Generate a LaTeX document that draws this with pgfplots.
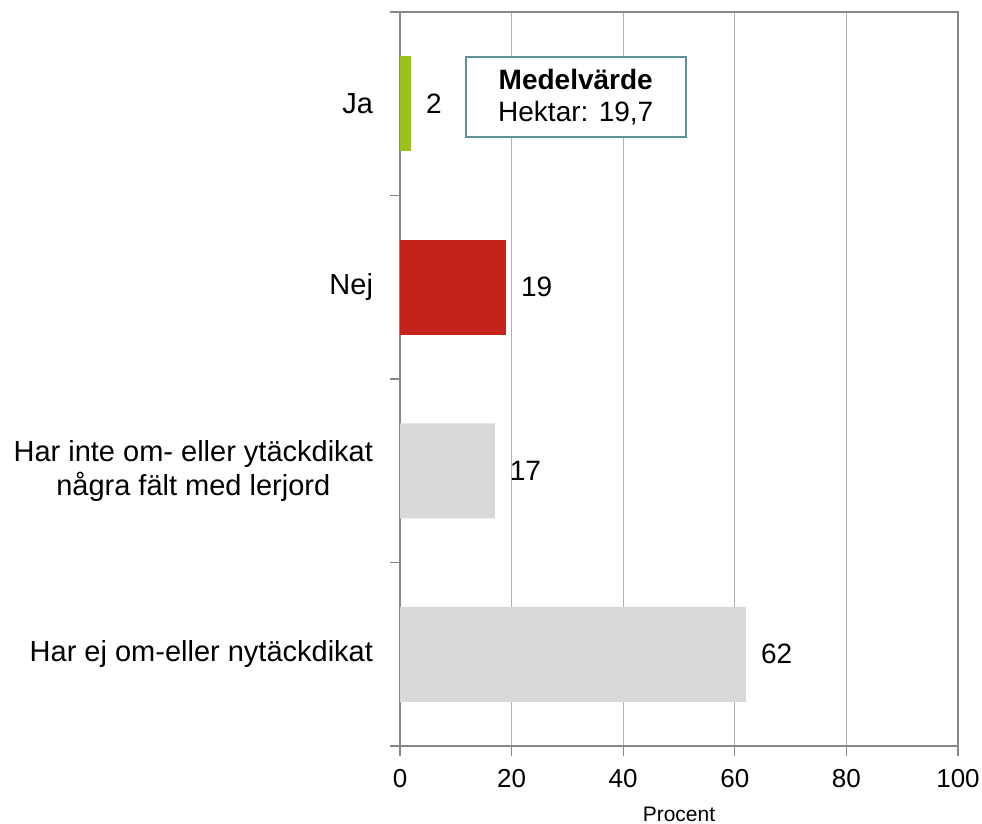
\documentclass[border=0pt]{standalone}
\usepackage{fontspec}
\setmainfont{Liberation Sans}
\usepackage{pgfplots}
\pgfplotsset{compat=1.18}
\definecolor{barGreen}{HTML}{99C31C}
\definecolor{barRed}{HTML}{C4231A}
\definecolor{barGray}{HTML}{D9D9D9}
\definecolor{boxEdge}{HTML}{5F9297}
\definecolor{axisGray}{HTML}{868686}
\definecolor{gridGray}{HTML}{B0B0B0}

\begin{document}
\begin{tikzpicture}
\begin{axis}[
    name=ax,
    scale only axis,
    width=279pt,
    height=367pt,
    xmin=0, xmax=100,
    ymin=0.5, ymax=4.5,
    xbar,
    bar width=47.5pt,
    bar shift=0pt,
    xtick={0,20,40,60,80,100},
    ytick={1,2,3,4},
    yticklabels={Har ej om-eller nytäckdikat,{Har inte om- eller ytäckdikat\\några fält med lerjord},Nej,Ja},
    minor ytick={0.5,1.5,2.5,3.5,4.5},
    major y tick style={draw=none},
    tick pos=left,
    tick align=outside,
    major tick length=5pt,
    minor tick length=5pt,
    tick style={axisGray, line width=0.6pt},
    axis line style={axisGray, line width=0.6pt},
    xmajorgrids,
    grid style={gridGray, line width=0.6pt},
    /pgf/number format/assume math mode=true,
    xticklabel style={font=\fontsize{13}{16}\selectfont, inner xsep=1pt, yshift=-3pt},
    yticklabel style={font=\fontsize{14.5}{17}\selectfont, align=center, inner xsep=1.5pt, xshift=-6.8pt},
    xlabel={Procent},
    xlabel style={font=\fontsize{10.5}{12}\selectfont, yshift=-5pt, inner sep=1pt},
    nodes near coords,
    every node near coord/.append style={font=\fontsize{14}{16}\selectfont, black, anchor=west, xshift=4pt},
    clip=false,
]
\addplot[fill=barGreen, draw=none] coordinates {(2,4)};
\addplot[fill=barRed, draw=none] coordinates {(19,3)};
\addplot[fill=barGray, draw=none] coordinates {(17,2) (62,1)};
\node[draw=boxEdge, line width=1pt, fill=white, align=center,
      minimum width=110pt, minimum height=40pt,
      font=\fontsize{14}{16}\selectfont] at (axis cs:31.5,4.037)
      {\textbf{Medelvärde}\\Hektar: 19,7};
\end{axis}
\draw[draw=none] (ax.north east) -- ++(12pt,6pt);
\draw[draw=none] (ax.south west) -- ++(-200pt,0pt);
\end{tikzpicture}
\end{document}
